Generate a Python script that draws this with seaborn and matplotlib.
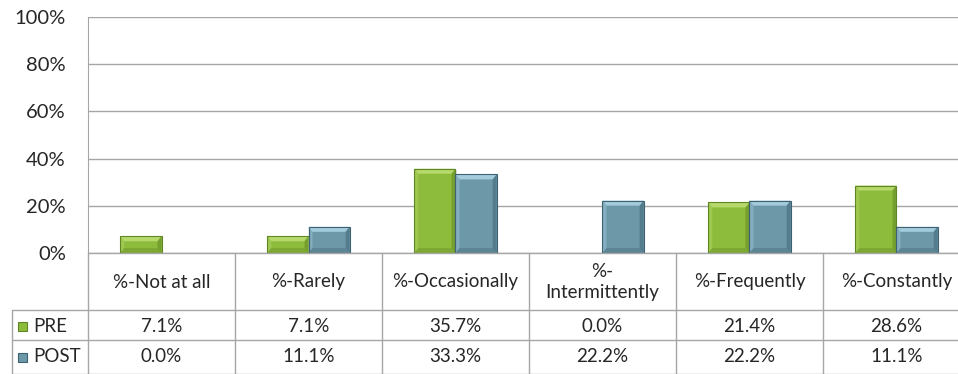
import numpy as np
import pandas as pd
import matplotlib
matplotlib.use("Agg")
import matplotlib.pyplot as plt
from matplotlib.patches import Polygon, Rectangle
import seaborn as sns

# ==========================================
# Data
# ==========================================
categories = ["%-Not at all", "%-Rarely", "%-Occasionally",
              "%-\nIntermittently", "%-Frequently", "%-Constantly"]
series = ["PRE", "POST"]
pre_vals = [7.1, 7.1, 35.7, 0.0, 21.4, 28.6]
post_vals = [0.0, 11.1, 33.3, 22.2, 22.2, 11.1]
y_ticks = [0, 20, 40, 60, 80, 100]

colors = {"PRE": "#8dbb3c", "POST": "#6c98a8"}
edges = {"PRE": "#5f8524", "POST": "#3f6272"}
lights = {"PRE": "#b5d96a", "POST": "#a3cbdc"}

df = pd.DataFrame({
    "cat": categories * 2,
    "series": ["PRE"] * 6 + ["POST"] * 6,
    "val": [v / 100 for v in pre_vals + post_vals],
})

sns.set_style("white")
plt.rcParams["font.family"] = ["Lato", "DejaVu Sans"]

W, H = 958, 374
fig = plt.figure(figsize=(W / 100, H / 100), dpi=100)

# plot area in pixel coordinates
x0, x1 = 88, 970
y_top, y_zero = 17, 253
ax = fig.add_axes([x0 / W, 1 - y_zero / H, (x1 - x0) / W, (y_zero - y_top) / H])

sns.barplot(data=df, x="cat", y="val", hue="series", hue_order=series,
            palette=colors, width=0.56, ax=ax, legend=False,
            saturation=1, linewidth=0)

ax.set_xlim(-0.5, 5.5)
ax.set_ylim(0, 1)
ax.set_yticks([t / 100 for t in y_ticks])
ax.set_yticklabels([f"{t}%" for t in y_ticks], fontsize=14.5, color="#262626")
ax.tick_params(axis="y", length=0, pad=16)
ax.set_xticks([])
ax.set_xlabel("")
ax.set_ylabel("")
ax.grid(axis="y", color="#a6a6a6", linewidth=1)
ax.set_axisbelow(True)
for s in ["top", "right", "bottom"]:
    ax.spines[s].set_visible(False)
ax.spines["left"].set_color("#a6a6a6")

# bevel look on the bars
px_x = 6 / (x1 - x0)
px_y = 1 / (y_zero - y_top)
for i, p in enumerate(list(ax.patches)):
    h = p.get_height()
    if h <= 0:
        continue
    s = series[0] if p.get_facecolor()[1] > 0.7 else series[1]
    xl, w = p.get_x(), p.get_width()
    xr = xl + w
    bx, by = 4 * px_x, 5 * px_y
    z = p.get_zorder()
    # shadow
    ax.add_patch(Rectangle((xl + px_x, 0), w, h - px_y, color="#bbbbbb",
                           alpha=0.5, zorder=z - 0.1, lw=0))
    # top facet
    ax.add_patch(Polygon([(xl, h), (xr, h), (xr - bx, h - by), (xl + bx, h - by)],
                         closed=True, fc=lights[s], lw=0, zorder=z + 0.1))
    # left facet
    ax.add_patch(Polygon([(xl, h), (xl, 0), (xl + bx, by), (xl + bx, h - by)],
                         closed=True, fc=lights[s], alpha=0.45, lw=0, zorder=z + 0.1))
    # right facet
    ax.add_patch(Polygon([(xr, h), (xr, 0), (xr - bx, by), (xr - bx, h - by)],
                         closed=True, fc=edges[s], alpha=0.5, lw=0, zorder=z + 0.1))
    # bottom facet
    ax.add_patch(Polygon([(xl, 0), (xr, 0), (xr - bx, by), (xl + bx, by)],
                         closed=True, fc=edges[s], alpha=0.35, lw=0, zorder=z + 0.1))
    ax.add_patch(Rectangle((xl, 0), w, h, fill=False, ec=edges[s], lw=0.8,
                           zorder=z + 0.2))

# ==========================================
# Data table under the chart
# ==========================================
tab = fig.add_axes([0, 0, 1, 1])
tab.set_xlim(0, W)
tab.set_ylim(H, 0)
tab.axis("off")
tab.patch.set_alpha(0)

col_w = (x1 - x0) / 6
grid_c = "#a6a6a6"
txt_c = "#262626"
fs = 13.5
tab.plot([x0, x1], [253, 253], color=grid_c, lw=1)
for yl in [310, 340]:
    tab.plot([12, x1], [yl, yl], color=grid_c, lw=1)
tab.plot([12, x1], [373.5, 373.5], color=grid_c, lw=1)
tab.plot([12, 12], [310, 374], color=grid_c, lw=1)
for k in range(7):
    xv = x0 + k * col_w
    tab.plot([xv, xv], [253, 374], color=grid_c, lw=1)

for k, c in enumerate(categories):
    xc = x0 + (k + 0.5) * col_w
    tab.text(xc, 282, c, ha="center", va="center", fontsize=fs,
             color=txt_c, linespacing=1.35)
    tab.text(xc, 326, f"{pre_vals[k]:.1f}%", ha="center", va="center",
             fontsize=fs, color=txt_c)
    tab.text(xc, 357, f"{post_vals[k]:.1f}%", ha="center", va="center",
             fontsize=fs, color=txt_c)

for s, yc in zip(series, [326, 357]):
    tab.add_patch(Rectangle((18, yc - 4.5), 9, 9, fc=colors[s], ec=edges[s], lw=0.8))
    tab.text(33, yc, s, ha="left", va="center", fontsize=fs, color=txt_c)

fig.savefig("out.png", dpi=100)
